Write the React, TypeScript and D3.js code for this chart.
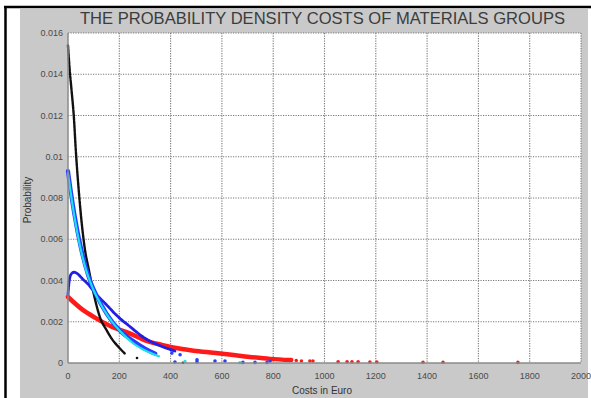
import { useEffect, useRef } from "react";
import * as d3 from "d3";

const X_TICKS = [0, 200, 400, 600, 800, 1000, 1200, 1400, 1600, 1800, 2000];
const Y_TICKS = [0, 0.002, 0.004, 0.006, 0.008, 0.01, 0.012, 0.014, 0.016];
const Y_TICK_LABELS = ["0", "0.002", "0.004", "0.006", "0.008", "0.01", "0.012", "0.014", "0.016"];

// dense curves (cost in euro, density)
const redCost = [0, 55, 105, 172, 238, 300, 366, 433, 500, 593, 690, 788, 870];
const redProb = [0.0032, 0.0026, 0.0022, 0.00175, 0.00145, 0.0011, 0.00088, 0.0007, 0.00058, 0.00046, 0.00032, 0.0002, 0.00014];

const blackCost = [0, 6, 14, 23, 30, 43, 55, 66, 80, 105, 125, 150, 172, 199, 222];
const blackProb = [0.0154, 0.0143, 0.0132, 0.0119, 0.0104, 0.0082, 0.0066, 0.0055, 0.0046, 0.0031, 0.0022, 0.0016, 0.00115, 0.00075, 0.00045];

const peakCost = [0, 4, 12, 23, 40, 55, 80, 105, 144, 199, 238, 300, 366, 417];
const peakProb = [0.0033, 0.0039, 0.0043, 0.0044, 0.0043, 0.0041, 0.0038, 0.0034, 0.0029, 0.0022, 0.0018, 0.0012, 0.0008, 0.00058];

const blueCost = [0, 10, 25, 50, 80, 110, 150, 200, 250, 300, 340];
const blueProb = [0.0093, 0.0084, 0.0072, 0.0056, 0.0042, 0.0033, 0.0024, 0.0016, 0.0011, 0.0007, 0.00045];

const cyanCost = [0, 16, 35, 66, 94, 121, 160, 199, 250, 316, 355];
const cyanProb = [0.0092, 0.0078, 0.0064, 0.0047, 0.0037, 0.003, 0.0022, 0.0016, 0.001, 0.00052, 0.00032];

// scattered tails
const redTailCost = [890, 910, 943, 955, 1053, 1088, 1107, 1131, 1177, 1204, 1384, 1462, 1754];
const redTailProb = [0.00012, 0.0001, 0.0001, 0.0001, 0.00006, 0.00006, 0.00006, 0.00006, 0.00005, 0.00005, 0.00004, 0.00004, 0.00003];
const blueTailCost = [405, 417, 437, 503, 503, 573, 612, 682, 729, 776, 788];
const blueTailProb = [0.00048, 0.00005, 0.0004, 0.00015, 0.00005, 0.0001, 0.0001, 0.00003, 0.00003, 0.00003, 0.0001];
const cyanTailCost = [456, 670];
const cyanTailProb = [0.00008, 0.00002];
const blackTailCost = [269, 448];
const blackTailProb = [0.00024, 0.00001];

const COLORS = {
  red: "#ff1a1a",
  black: "#111111",
  peak: "#1f1fe6",
  blue: "#2a3cff",
  cyan: "#19e0ee",
};

export default function App() {
  const svgRef = useRef<SVGSVGElement | null>(null);

  useEffect(() => {
    document.body.style.margin = "0";
    const svg = d3.select(svgRef.current);
    svg.selectAll("*").remove();

    const W = 591;
    const H = 398;
    const plot = { left: 68, right: 581, top: 33, bottom: 363 };

    // outer frame
    svg.append("rect").attr("width", W).attr("height", H).attr("fill", "#fff");
    svg.append("rect").attr("x", 20).attr("y", 9).attr("width", 568).attr("height", H - 9).attr("fill", "#c9c9c9");
    svg.append("line").attr("x1", 4).attr("x2", W).attr("y1", 7).attr("y2", 7).attr("stroke", "#000").attr("stroke-width", 2.5);
    svg.append("line").attr("x1", 5.5).attr("x2", 5.5).attr("y1", 6).attr("y2", H).attr("stroke", "#000").attr("stroke-width", 2.5);

    const x = d3.scaleLinear().domain([0, 2000]).range([plot.left, plot.right]);
    const y = d3.scaleLinear().domain([0, 0.016]).range([plot.bottom, plot.top]);

    svg
      .append("rect")
      .attr("x", plot.left)
      .attr("y", plot.top)
      .attr("width", plot.right - plot.left)
      .attr("height", plot.bottom - plot.top)
      .attr("fill", "#fff");

    // grid
    const grid = svg.append("g").attr("stroke", "#7a7a7a").attr("stroke-dasharray", "1.2,1.3").attr("stroke-width", 1.1);
    X_TICKS.slice(1, -1).forEach((t) => {
      grid.append("line").attr("x1", x(t)).attr("x2", x(t)).attr("y1", plot.top).attr("y2", plot.bottom);
    });
    Y_TICKS.slice(1, -1).forEach((t) => {
      grid.append("line").attr("x1", plot.left).attr("x2", plot.right).attr("y1", y(t)).attr("y2", y(t));
    });
    // top / right box lines (dotted like grid)
    grid.append("line").attr("x1", plot.left).attr("x2", plot.right).attr("y1", plot.top).attr("y2", plot.top);
    grid.append("line").attr("x1", plot.right).attr("x2", plot.right).attr("y1", plot.top).attr("y2", plot.bottom);

    const pts = (cs: number[], ps: number[]) => cs.map((c, i) => [c, ps[i]] as [number, number]);
    const line = d3
      .line<[number, number]>()
      .x((d) => x(d[0]))
      .y((d) => y(d[1]))
      .curve(d3.curveMonotoneX);

    const curve = (cs: number[], ps: number[], color: string, width: number) => {
      svg
        .append("path")
        .attr("d", line(pts(cs, ps)))
        .attr("fill", "none")
        .attr("stroke", color)
        .attr("stroke-width", width)
        .attr("stroke-linecap", "round")
        .attr("stroke-dasharray", width > 3 ? null : "3,0.8");
    };
    const dots = (cs: number[], ps: number[], color: string, r: number) => {
      svg
        .append("g")
        .selectAll("circle")
        .data(pts(cs, ps))
        .join("circle")
        .attr("cx", (d) => x(d[0]))
        .attr("cy", (d) => y(d[1]))
        .attr("r", r)
        .attr("fill", color);
    };

    curve(redCost, redProb, COLORS.red, 4.5);
    dots(redTailCost, redTailProb, COLORS.red, 1.8);
    curve(blackCost, blackProb, COLORS.black, 2.4);
    dots(blackTailCost, blackTailProb, COLORS.black, 1.3);
    curve(peakCost, peakProb, COLORS.peak, 2.8);
    curve(blueCost, blueProb, COLORS.blue, 4.2);
    dots(blueTailCost, blueTailProb, COLORS.blue, 1.8);
    curve(cyanCost, cyanProb, COLORS.cyan, 2.2);
    dots(cyanTailCost, cyanTailProb, COLORS.cyan, 1.6);

    // axes
    const axisColor = "#8a8a8a";
    svg.append("line").attr("x1", plot.left).attr("x2", plot.right).attr("y1", plot.bottom).attr("y2", plot.bottom).attr("stroke", axisColor).attr("stroke-width", 1.5);
    svg.append("line").attr("x1", plot.left).attr("x2", plot.left).attr("y1", plot.top).attr("y2", plot.bottom).attr("stroke", axisColor).attr("stroke-width", 1.5);

    const font = "Liberation Sans, Arial, sans-serif";
    const labelColor = "#4a4a4a";

    svg
      .append("g")
      .selectAll("text")
      .data(X_TICKS)
      .join("text")
      .attr("x", (d) => x(d))
      .attr("y", 379)
      .attr("text-anchor", "middle")
      .attr("font-family", font)
      .attr("font-size", 9)
      .attr("fill", labelColor)
      .text((d) => String(d));

    svg
      .append("g")
      .selectAll("text")
      .data(Y_TICKS)
      .join("text")
      .attr("x", 63)
      .attr("y", (d) => y(d) + 3)
      .attr("text-anchor", "end")
      .attr("font-family", font)
      .attr("font-size", 9)
      .attr("fill", labelColor)
      .text((_, i) => Y_TICK_LABELS[i]);

    svg
      .append("text")
      .attr("x", 322)
      .attr("y", 394)
      .attr("text-anchor", "middle")
      .attr("font-family", font)
      .attr("font-size", 10)
      .attr("fill", "#333")
      .text("Costs in Euro");

    svg
      .append("text")
      .attr("transform", `translate(31, 200) rotate(-90)`)
      .attr("text-anchor", "middle")
      .attr("font-family", font)
      .attr("font-size", 10)
      .attr("fill", "#333")
      .text("Probability");

    svg
      .append("text")
      .attr("x", 80)
      .attr("y", 24)
      .attr("textLength", 485)
      .attr("lengthAdjust", "spacingAndGlyphs")
      .attr("font-family", font)
      .attr("font-size", 17)
      .attr("fill", "#3c3c3c")
      .text("THE PROBABILITY DENSITY COSTS OF MATERIALS GROUPS");
  }, []);

  return <svg ref={svgRef} width={591} height={398} style={{ display: "block" }} />;
}
